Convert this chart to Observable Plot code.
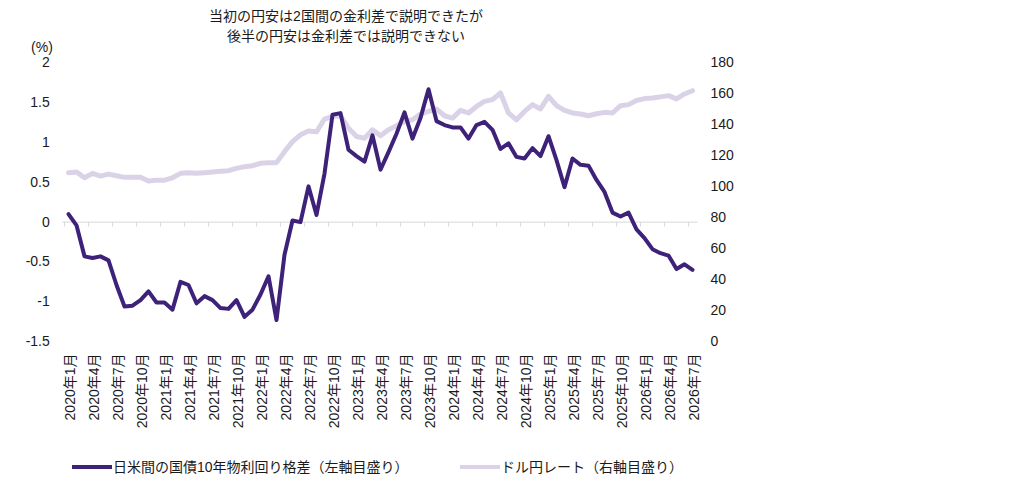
<!DOCTYPE html>
<html>
<head>
<meta charset="utf-8">
<script src="https://cdn.jsdelivr.net/npm/d3@7"></script>
<script src="https://cdn.jsdelivr.net/npm/@observablehq/plot@0.6"></script>
<style>
  body { margin: 0; background: #fff; font-family: "Liberation Sans", "Noto Sans CJK JP", sans-serif; color: #1a1a1a; }
  #wrap { position: relative; width: 1010px; height: 486px; overflow: hidden; }
  #title { position: absolute; top: 6px; left: 0; width: 692px; text-align: center; font-size: 14px; line-height: 20px; z-index: 2; }
  .leg { position: absolute; top: 457px; height: 20px; line-height: 20px; font-size: 14px; white-space: nowrap; display: flex; align-items: center; }
  .sw { display: inline-block; width: 40px; height: 4px; margin-right: 1px; }
</style>
</head>
<body>
<div id="wrap">
  <div id="title">当初の円安は2国間の金利差で説明できたが<br>後半の円安は金利差では説明できない</div>
  <div id="chart"></div>
  <div class="leg" style="left:72px"><span class="sw" style="background:#3e2279"></span>日米間の国債10年物利回り格差（左軸目盛り）</div>
  <div class="leg" style="left:460px"><span class="sw" style="background:#dad3e8"></span>ドル円レート（右軸目盛り）</div>
</div>
<script>
// Categories: monthly, 2020年1月 – 2026年7月
const months = [
  "2020年1月","2020年2月","2020年3月","2020年4月","2020年5月","2020年6月","2020年7月","2020年8月","2020年9月","2020年10月","2020年11月","2020年12月",
  "2021年1月","2021年2月","2021年3月","2021年4月","2021年5月","2021年6月","2021年7月","2021年8月","2021年9月","2021年10月","2021年11月","2021年12月",
  "2022年1月","2022年2月","2022年3月","2022年4月","2022年5月","2022年6月","2022年7月","2022年8月","2022年9月","2022年10月","2022年11月","2022年12月",
  "2023年1月","2023年2月","2023年3月","2023年4月","2023年5月","2023年6月","2023年7月","2023年8月","2023年9月","2023年10月","2023年11月","2023年12月",
  "2024年1月","2024年2月","2024年3月","2024年4月","2024年5月","2024年6月","2024年7月","2024年8月","2024年9月","2024年10月","2024年11月","2024年12月",
  "2025年1月","2025年2月","2025年3月","2025年4月","2025年5月","2025年6月","2025年7月","2025年8月","2025年9月","2025年10月","2025年11月","2025年12月",
  "2026年1月","2026年2月","2026年3月","2026年4月","2026年5月","2026年6月","2026年7月"
];

// Tick labels on the x axis (every 3 months)
const xTickLabels = [
  "2020年1月","2020年4月","2020年7月","2020年10月",
  "2021年1月","2021年4月","2021年7月","2021年10月",
  "2022年1月","2022年4月","2022年7月","2022年10月",
  "2023年1月","2023年4月","2023年7月","2023年10月",
  "2024年1月","2024年4月","2024年7月","2024年10月",
  "2025年1月","2025年4月","2025年7月","2025年10月",
  "2026年1月","2026年4月","2026年7月"
];

// 日米間の国債10年物利回り格差 (%, left axis)
const spread = [
  0.10, -0.04, -0.43, -0.45, -0.43, -0.48, -0.79, -1.06, -1.05, -0.98, -0.87, -1.01,
  -1.01, -1.10, -0.75, -0.79, -1.02, -0.93, -0.98, -1.08, -1.09, -0.98, -1.19, -1.10,
  -0.91, -0.68, -1.23, -0.41, 0.02, 0.00, 0.45, 0.09, 0.61, 1.35, 1.37, 0.91,
  0.83, 0.76, 1.09, 0.66, 0.88, 1.11, 1.38, 1.05, 1.31, 1.67, 1.27, 1.22,
  1.19, 1.19, 1.05, 1.22, 1.26, 1.16, 0.92, 0.99, 0.82, 0.80, 0.93, 0.83,
  1.08, 0.78, 0.44, 0.80, 0.72, 0.71, 0.53, 0.38, 0.12, 0.07, 0.12, -0.09,
  -0.20, -0.34, -0.39, -0.42, -0.59, -0.53, -0.60
];

// ドル円レート (円, right axis)
const usdjpy = [
  109.1, 109.5, 105.8, 108.7, 106.9, 108.2, 107.1, 106.1, 106.1, 106.1, 103.7, 104.3,
  104.3, 105.8, 108.7, 109.1, 108.7, 109.1, 109.5, 110.0, 110.4, 111.9, 113.0, 113.6,
  115.2, 115.6, 115.6, 122.7, 129.2, 133.6, 136.0, 135.5, 143.8, 145.5, 145.9, 137.9,
  132.5, 131.4, 136.8, 133.0, 136.8, 139.4, 142.2, 143.3, 147.0, 148.7, 150.3, 145.9,
  144.4, 149.4, 147.7, 151.9, 155.2, 156.3, 160.6, 147.7, 143.3, 148.7, 153.1, 150.3,
  158.4, 152.4, 149.4, 147.7, 147.0, 145.9, 147.2, 148.1, 147.7, 152.4, 153.1, 155.8,
  157.0, 157.4, 158.1, 158.9, 156.8, 160.0, 162.1
];

const leftTicks = [-1.5, -1, -0.5, 0, 0.5, 1, 1.5, 2];
const rightTicks = [0, 20, 40, 60, 80, 100, 120, 140, 160, 180];

const leftDomain = [-1.5, 2];
const rightDomain = [0, 180];
// map right-axis values onto the left y scale
const toLeft = d3.scaleLinear().domain(rightDomain).range(leftDomain);

const rows = months.map((m, i) => ({ month: m, spread: spread[i], usdjpy: usdjpy[i] }));

const DARK = "#3e2279";
const LIGHT = "#dad3e8";
const GRID = "#d9d9d9";

const chart = Plot.plot({
  width: 1010,
  height: 450,
  marginLeft: 62.3,
  marginRight: 312.5,
  marginTop: 62.5,
  marginBottom: 109,
  style: { fontFamily: '"Liberation Sans", "Noto Sans CJK JP", sans-serif', fontSize: "14px", color: "#1a1a1a", background: "#fff" },
  x: { type: "point", domain: months, padding: 0.5 },
  y: { domain: leftDomain },
  marks: [
    Plot.ruleY([0], { stroke: GRID, strokeWidth: 1 }),
    Plot.ruleX(xTickLabels, { x: d => d, y1: 0, y2: -0.063, dx: -4.02, stroke: GRID, strokeWidth: 1 }),
    Plot.axisY(leftTicks, { anchor: "left", tickSize: 0, tickPadding: 13, tickFormat: d => String(d), label: null }),
    Plot.text(rightTicks, { y: d => toLeft(d), frameAnchor: "right", dx: 12.5, textAnchor: "start", text: d => String(d) }),
    Plot.text(["(%)"], { frameAnchor: "top-left", dx: -10, dy: -21, textAnchor: "end", text: d => d, style: "letter-spacing:2px" }),
    Plot.axisX(xTickLabels, { anchor: "bottom", tickSize: 0, tickPadding: 12, tickRotate: -90, dx: 2, label: null }),
    Plot.line(rows, { x: "month", y: d => toLeft(d.usdjpy), stroke: LIGHT, strokeWidth: 5, strokeLinejoin: "round", strokeLinecap: "round" }),
    Plot.line(rows, { x: "month", y: "spread", stroke: DARK, strokeWidth: 4, strokeLinejoin: "round", strokeLinecap: "round" })
  ]
});
document.getElementById("chart").appendChild(chart);
</script>
</body>
</html>
